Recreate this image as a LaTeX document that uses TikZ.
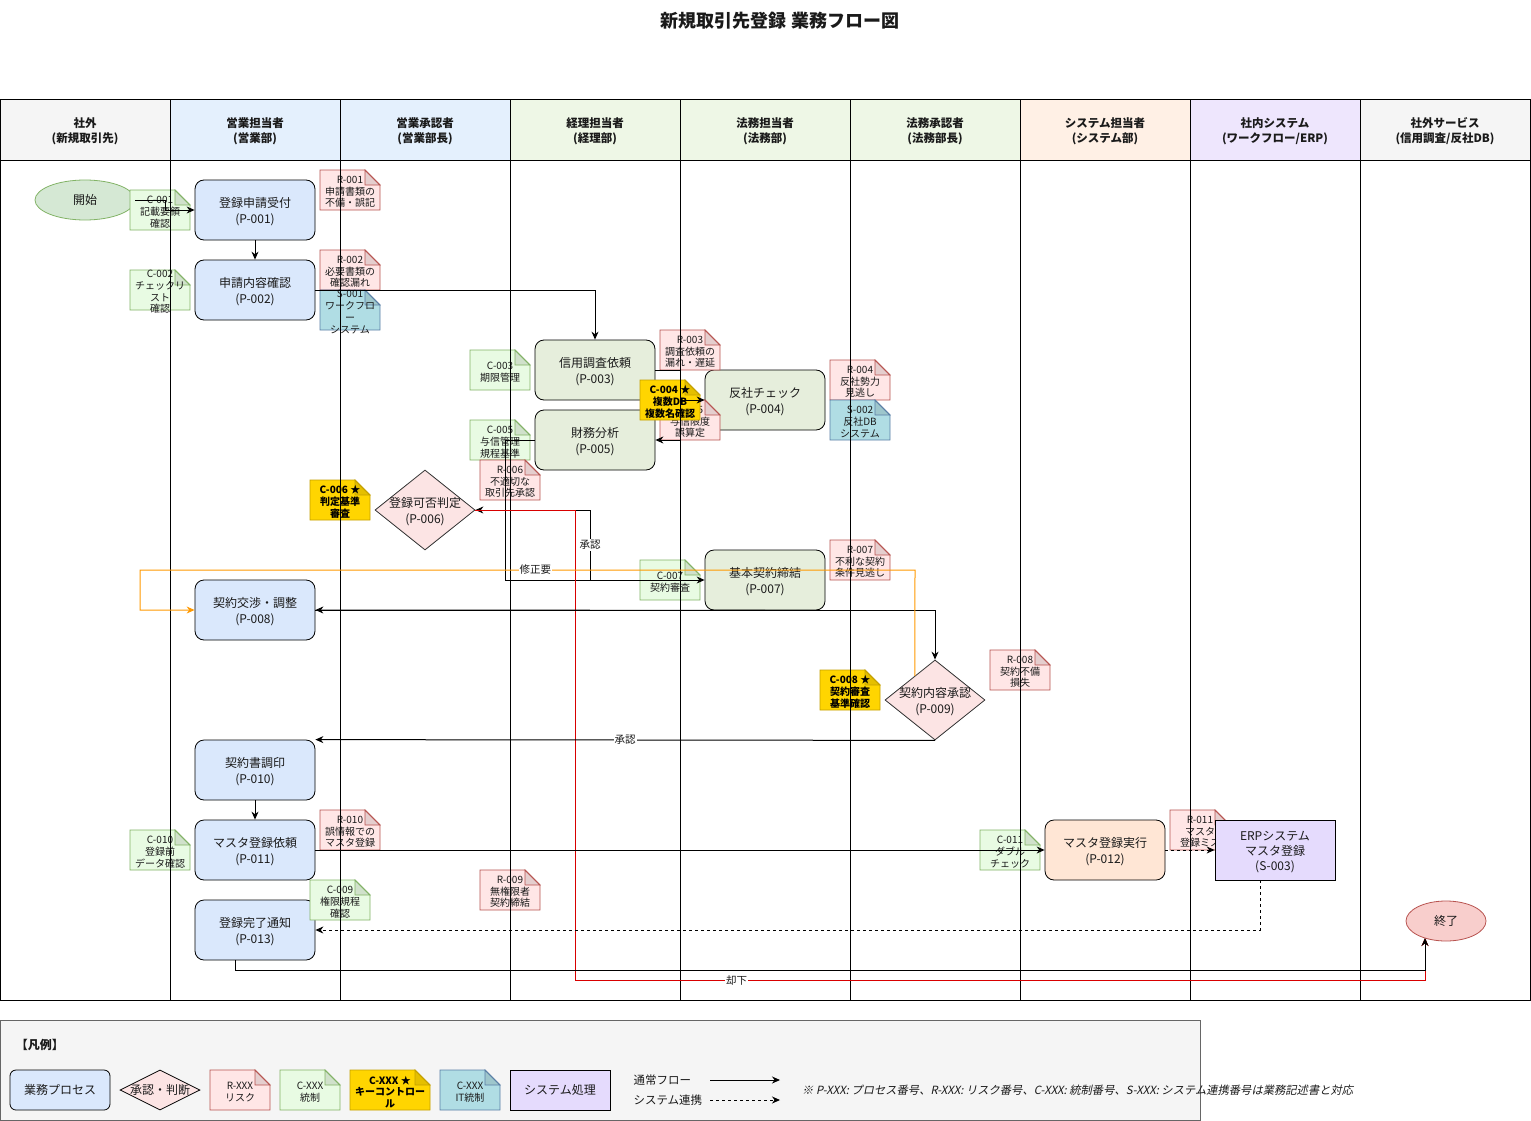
\documentclass[tikz,border=0pt]{standalone}
\usepackage{fontspec}
\setmainfont{Noto Sans CJK JP}
\newfontfamily\jpslant{Noto Sans CJK JP}[FakeSlant=0.2]
\usetikzlibrary{shapes.geometric,arrows.meta,calc}
\definecolor{pblue}{HTML}{DAE8FC}
\definecolor{pgreen}{HTML}{E6EEDC}
\definecolor{porange}{HTML}{FFE6D5}
\definecolor{ppurple}{HTML}{E5DBFD}
\definecolor{dpink}{HTML}{FCE4E4}
\definecolor{rfill}{HTML}{FFE6E6}
\definecolor{rdraw}{HTML}{B85450}
\definecolor{cfill}{HTML}{E8FBE3}
\definecolor{cdraw}{HTML}{82B366}
\definecolor{kfill}{HTML}{FFD500}
\definecolor{kdraw}{HTML}{C4A000}
\definecolor{sfill}{HTML}{B0DDE4}
\definecolor{sdraw}{HTML}{5A7FA6}
\definecolor{stfill}{HTML}{D5E8D4}
\definecolor{enfill}{HTML}{F8CECC}
\definecolor{hgray}{HTML}{F5F5F5}
\definecolor{hblue}{HTML}{E4F0FD}
\definecolor{hgreen}{HTML}{EEF7E6}
\definecolor{horange}{HTML}{FFF0E5}
\definecolor{hpurple}{HTML}{EEE6FD}
\definecolor{lgbg}{HTML}{F5F5F5}
\definecolor{lgdraw}{HTML}{666666}
\definecolor{txt}{HTML}{1A1A1A}
\definecolor{orangeline}{HTML}{FF9900}
\definecolor{redline}{HTML}{D80000}
\newcommand\nbox[7][]{%
  \filldraw[#5] (#3,#4) -- ({#3+#6-15},#4) -- ({#3+#6},{#4+15}) -- ({#3+#6},{#4+40}) -- (#3,{#4+40}) -- cycle;
  \filldraw[#5, fill=black, fill opacity=0.1] ({#3+#6-15},#4) -- ({#3+#6-15},{#4+15}) -- ({#3+#6},{#4+15}) -- cycle;
  \node[notetxt,#1] (#2) at ({#3+#6/2},{#4+22}) {#7};
}
\newcommand\procnode[5]{%
  \node[procbox, fill=#4] (#1) at (#2,#3) {};
  \node[ptext] (#1t) at (#2,{#3+2}) {#5};
}
\begin{document}
\begin{tikzpicture}[x=1pt,y=-1pt,
  procbox/.style={draw=black, line width=0.8pt, rounded corners=9pt, minimum width=120pt, minimum height=60pt, inner sep=0pt},
  ptext/.style={align=center, inner sep=0pt, text=txt, font=\fontsize{12}{16}\selectfont},
  decision/.style={diamond, draw=black!80, line width=0.8pt, fill=dpink, minimum width=100pt, minimum height=80pt, inner sep=0pt},
  notetxt/.style={align=center, text=txt, inner sep=0pt, font=\fontsize{10}{11.7}\selectfont},
  keytxt/.style={font=\fontsize{10}{11.7}\selectfont\bfseries, text=black},
  rnote/.style={fill=rfill, draw=rdraw, line width=0.8pt},
  cnote/.style={fill=cfill, draw=cdraw, line width=0.8pt},
  knote/.style={fill=kfill, draw=kdraw, line width=0.8pt},
  snote/.style={fill=sfill, draw=sdraw, line width=0.8pt},
  hdr/.style={align=center, font=\fontsize{11.5}{15}\selectfont\bfseries, text=txt},
  flow/.style={draw=black, line width=1pt, -{Stealth[length=8pt,width=7pt]}},
  sysflow/.style={flow, dash pattern=on 3pt off 3pt},
  lbl/.style={fill=white, inner sep=1pt, text=txt, font=\fontsize{10.5}{12}\selectfont},
  lane/.style={draw=black, line width=1pt},
  lgtxt/.style={text=txt, font=\fontsize{11.5}{14}\selectfont}
]
\useasboundingbox (0,0) rectangle (1531,1121);
\fill[white] (0,0) rectangle (1531,1121);
\node[font=\fontsize{18}{20}\selectfont\bfseries, text=txt] (title) at (780,21) {新規取引先登録 業務フロー図};

% header fills
\foreach \i/\c in {0/hgray,1/hblue,2/hblue,3/hgreen,4/hgreen,5/hgreen,6/horange,7/hpurple,8/hgray}{
  \fill[\c] ({\i*170},100) rectangle ({\i*170+170},160);
}
\node[hdr] (h1) at (85,131) {社外\\(新規取引先)};
\node[hdr] (h2) at (255,131) {営業担当者\\(営業部)};
\node[hdr] (h3) at (425,131) {営業承認者\\(営業部長)};
\node[hdr] (h4) at (595,131) {経理担当者\\(経理部)};
\node[hdr] (h5) at (765,131) {法務担当者\\(法務部)};
\node[hdr] (h6) at (935,131) {法務承認者\\(法務部長)};
\node[hdr] (h7) at (1105,131) {システム担当者\\(システム部)};
\node[hdr] (h8) at (1275,131) {社内システム\\(ワークフロー/ERP)};
\node[hdr] (h9) at (1445,131) {社外サービス\\(信用調査/反社DB)};

% start / end
\node[ellipse, draw=cdraw, fill=stfill, line width=0.8pt, minimum width=100pt, minimum height=40pt, inner sep=0pt, text=txt, font=\fontsize{12}{14}\selectfont] (start) at (85,200) {開始};
\node[ellipse, draw=rdraw, fill=enfill, line width=0.8pt, minimum width=80pt, minimum height=40pt, inner sep=0pt, text=txt, font=\fontsize{12}{14}\selectfont] (end) at (1446,921) {終了};

% processes
\procnode{p001}{255}{210}{pblue}{登録申請受付\\(P-001)}
\procnode{p002}{255}{290}{pblue}{申請内容確認\\(P-002)}
\procnode{p003}{595}{370}{pgreen}{信用調査依頼\\(P-003)}
\procnode{p004}{765}{400}{pgreen}{反社チェック\\(P-004)}
\procnode{p005}{595}{440}{pgreen}{財務分析\\(P-005)}
\node[decision] (p006) at (425,510) {};
\node[ptext] (p006t) at (425,512) {登録可否判定\\(P-006)};
\procnode{p007}{765}{580}{pgreen}{基本契約締結\\(P-007)}
\procnode{p008}{255}{610}{pblue}{契約交渉・調整\\(P-008)}
\node[decision] (p009) at (935,700) {};
\node[ptext] (p009t) at (935,702) {契約内容承認\\(P-009)};
\procnode{p010}{255}{770}{pblue}{契約書調印\\(P-010)}
\procnode{p011}{255}{850}{pblue}{マスタ登録依頼\\(P-011)}
\procnode{p012}{1105}{850}{porange}{マスタ登録実行\\(P-012)}
\procnode{p013}{255}{930}{pblue}{登録完了通知\\(P-013)}

% notes
\nbox{c001}{130}{190}{cnote}{60}{C-001\\記載要領\\確認}
\nbox{r001}{320}{170}{rnote}{60}{R-001\\申請書類の\\不備・誤記}
\nbox{c002}{130}{270}{cnote}{60}{C-002\\チェックリ\\スト\\確認}
\nbox{r002}{320}{250}{rnote}{60}{R-002\\必要書類の\\確認漏れ}
\nbox{s001}{320}{290}{snote}{60}{S-001\\ワークフロ\\ー\\システム}
\nbox{c003}{470}{350}{cnote}{60}{C-003\\期限管理}
\nbox{r003}{660}{330}{rnote}{60}{R-003\\調査依頼の\\漏れ・遅延}
\nbox{r005}{660}{400}{rnote}{60}{R-005\\与信限度\\誤算定}
\nbox[keytxt]{c004}{640}{380}{knote}{60}{C-004 ★\\複数DB\\複数名確認}
\nbox{r004}{830}{360}{rnote}{60}{R-004\\反社勢力\\見逃し}
\nbox{s002}{830}{400}{snote}{60}{S-002\\反社DB\\システム}
\nbox{c005}{470}{420}{cnote}{60}{C-005\\与信管理\\規程基準}
\nbox{r006}{480}{460}{rnote}{60}{R-006\\不適切な\\取引先承認}
\nbox[keytxt]{c006}{310}{480}{knote}{60}{C-006 ★\\判定基準\\審査}
\nbox{c007}{640}{560}{cnote}{60}{C-007\\契約審査}
\nbox{r007}{830}{540}{rnote}{60}{R-007\\不利な契約\\条件見逃し}
\nbox[keytxt]{c008}{820}{670}{knote}{60}{C-008 ★\\契約審査\\基準確認}
\nbox{r008}{990}{650}{rnote}{60}{R-008\\契約不備\\損失}
\nbox{r010}{320}{810}{rnote}{60}{R-010\\誤情報での\\マスタ登録}
\nbox{c010}{130}{830}{cnote}{60}{C-010\\登録前\\データ確認}
\nbox{c009}{310}{880}{cnote}{60}{C-009\\権限規程\\確認}
\nbox{r009}{480}{870}{rnote}{60}{R-009\\無権限者\\契約締結}
\nbox{c011}{980}{830}{cnote}{60}{C-011\\ダブル\\チェック}
\nbox{r011}{1170}{810}{rnote}{60}{R-011\\マスタ\\登録ミス}
\node[draw=black, line width=0.8pt, fill=ppurple, minimum width=120pt, minimum height=60pt, inner sep=0pt] (s003) at (1275,850) {};
\node[align=center, inner sep=0pt, text=txt, font=\fontsize{12}{15}\selectfont] (s003t) at (1275,852) {ERPシステム\\マスタ登録\\(S-003)};

% lanes and frame
\foreach \x in {170,340,510,680,850,1020,1190,1360}{
  \draw[lane] (\x,100) -- (\x,1000);
}
\draw[lane] (0,160) -- (1530,160);
\draw[lane] (0.5,100) rectangle (1530.5,1000);

% edges
\coordinate (endin) at (1425,938);
\coordinate (p009out) at ($(p009.north)!0.4!(p009.west)$);
\draw[flow] (start.east) -- (165,200) |- (p001.west);
\draw[flow] (p001) -- (p002);
\draw[flow] (p002.east) -| (p003.north);
\draw[flow] (p003.east) -- (680,370) |- (p004.west);
\draw[flow] (p003.east) -- (680,370) |- (p005.east);
\draw[flow] (p005.west) -- (505,440) -- (505,580) -- (590,580) -- (590,510) -- (p006.east);
\draw[flow] (p006.east) -- (590,510) -- node[lbl] {承認} (590,580) -- (p007.west);
\draw[flow, draw=redline] (p006.east) -- (575,510) -- (575,980) -- node[lbl, pos=0.19] {却下} (1425,980) -- (endin);
\draw[flow] (p008.east) -- (935,610) -- (p009.north);
\draw[flow] (p007.south) -- (p008.east);
\draw[flow, draw=orangeline] (p009out) -- (915,570) -- node[lbl, pos=0.49] {修正要} (140,570) -- (140,610) -- (p008.west);
\draw[flow] (p009.south) -- node[lbl] {承認} (p010.north east);
\draw[flow] (p010) -- (p011);
\draw[flow] (p011.east) -- (p012.west);
\draw[sysflow] (p012.east) -- (s003.west);
\draw[sysflow] ([xshift=-15pt]s003.south) |- (p013.east);
\draw[flow] ([xshift=-20pt]p013.south) -- (235,970) -| (endin);

% legend
\draw[fill=lgbg, draw=lgdraw, line width=0.8pt] (0.5,1020.5) rectangle (1200,1120);
\node[font=\fontsize{12}{14}\selectfont\bfseries, text=txt] (lgtitle) at (40,1045) {【凡例】};
\node[draw=black, line width=0.8pt, rounded corners=6pt, fill=pblue, minimum width=100pt, minimum height=40pt, inner sep=0pt, lgtxt, font=\fontsize{12}{14}\selectfont] (lgproc) at (60,1090) {業務プロセス};
\node[diamond, draw=black, line width=0.8pt, fill=dpink, minimum width=80pt, minimum height=40pt, inner sep=0pt] (lgdec) at (160,1090) {};
\node[lgtxt, font=\fontsize{12}{14}\selectfont] (lgdect) at (lgdec) {承認・判断};
\nbox{lgr}{210}{1070}{rnote}{60}{R-XXX\\リスク}
\nbox{lgc}{280}{1070}{cnote}{60}{C-XXX\\統制}
\nbox[keytxt]{lgk}{350}{1070}{knote}{80}{C-XXX ★\\キーコントロー\\ル}
\nbox{lgs}{440}{1070}{snote}{60}{C-XXX\\IT統制}
\node[draw=black, line width=0.8pt, fill=ppurple, minimum width=100pt, minimum height=40pt, inner sep=0pt, lgtxt, font=\fontsize{12}{14}\selectfont] (lgsys) at (560,1090) {システム処理};
\node[lgtxt, anchor=west] (lgflow) at (630,1080) {通常フロー};
\node[lgtxt, anchor=west] (lgsysf) at (630,1100) {システム連携};
\coordinate (lga1) at (710,1080);
\coordinate (lga2) at (780,1080);
\coordinate (lgb1) at (710,1100);
\coordinate (lgb2) at (780,1100);
\draw[flow] (lga1) -- (lga2);
\draw[sysflow] (lgb1) -- (lgb2);
\node[anchor=west, text=txt, font=\jpslant\fontsize{11.3}{13}\selectfont, inner sep=0pt] (lgnote) at (802,1090) {※ P-XXX: プロセス番号、R-XXX: リスク番号、C-XXX: 統制番号、S-XXX: システム連携番号は業務記述書と対応};
\end{tikzpicture}
\end{document}
